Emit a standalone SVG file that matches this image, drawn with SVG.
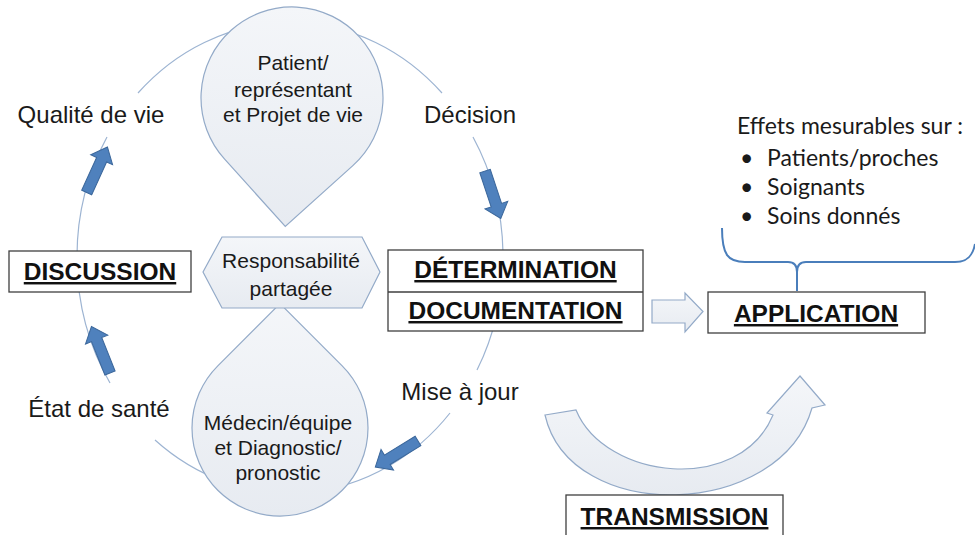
<svg xmlns="http://www.w3.org/2000/svg" width="975" height="535" viewBox="0 0 975 535">
<style>
.lbl{font-family:"Liberation Sans",Arial,sans-serif;font-size:24px;fill:#1a1a1a;text-anchor:middle}
.dt{font-family:"Liberation Sans",Arial,sans-serif;font-size:21px;fill:#1a1a1a;text-anchor:middle}
.box{fill:#fff;stroke:#3f3f3f;stroke-width:1.3}
.bt{font-family:"Liberation Sans",Arial,sans-serif;font-size:24.5px;font-weight:bold;fill:#111;text-anchor:middle;text-decoration:underline}
.shape{fill:url(#lg);stroke:#93aac8;stroke-width:1.2}
.cyc{fill:none;stroke:#9db4d2;stroke-width:1.2}
.eff{font-family:Lato,"Open Sans",sans-serif;font-size:23px;fill:#1a1a1a}
</style>
<defs>
<linearGradient id="lg" x1="0" y1="0" x2="0" y2="1"><stop offset="0" stop-color="#f4f6f9"/><stop offset="1" stop-color="#e7ebf1"/></linearGradient>
<path id="ba" d="M0 -5.5 H36 V-12 L50 0 L36 12 V5.5 H0 Z" fill="#4f81bd" stroke="#3b679b" stroke-width="1"/>
</defs>

<g id="connectors">
<path class="cyc" d="M442 93 A213 235 0 0 0 138 93"/>
<path class="cyc" d="M107 137 A213 235 0 0 0 110 383"/>
<path class="cyc" d="M155 440 A213 235 0 0 0 450 413"/>
<path class="cyc" d="M477 370 A213 235 0 0 0 473 137"/>
<use href="#ba" transform="translate(86.7 192.5) rotate(-65.5)"/>
<use href="#ba" transform="translate(110 373) rotate(-111.8)"/>
<use href="#ba" transform="translate(485 171) rotate(71.6)"/>
<use href="#ba" transform="translate(418 441) rotate(148.6)"/>
<path class="shape" d="M652 300 H685 V293 L703 311.5 L685 332 V323 H652 Z"/>
<path class="shape" d="M545 415 L576 410 C605 480 740 495 773 415 L767 413 L800 376 L825 405 L812 408 C780 520 570 525 545 415 Z"/>
<path d="M722 228 C722 255 728 262 745 262 L788 262 C795 262 797 266 797 272 L797 291 M797 272 C797 266 799 262 806 262 L955 262 C968 262 973 255 975 244" fill="none" stroke="#4a7ebb" stroke-width="2"/>
</g>

<g id="patient">
<path class="shape" transform="rotate(3 292 98)" d="M227.7 162.3 A91 91 0 1 1 356.3 162.3 L292 226.7 Z"/>
<text class="dt" x="293" y="70">Patient/</text>
<text class="dt" x="293" y="97">représentant</text>
<text class="dt" x="293" y="122">et Projet de vie</text>
</g>

<g id="medecin">
<path class="shape" d="M217.8 365.8 L280 303.5 L342.2 365.8 A88 88 0 1 1 217.8 365.8 Z"/>
<text class="dt" x="278" y="430">Médecin/équipe</text>
<text class="dt" x="278" y="455">et Diagnostic/</text>
<text class="dt" x="278" y="480">pronostic</text>
</g>

<g id="responsabilite">
<path class="shape" d="M203 272 L222 237 H362 L380 272 L362 308 H222 Z"/>
<text class="dt" x="291" y="268">Responsabilité</text>
<text class="dt" x="291" y="296">partagée</text>
</g>

<g id="discussion">
<rect class="box" x="9" y="251" width="182" height="41"/>
<text class="bt" x="100" y="280">DISCUSSION</text>
</g>

<g id="determination">
<rect class="box" x="388" y="250" width="255" height="81"/>
<line x1="388" y1="292" x2="643" y2="292" stroke="#3f3f3f" stroke-width="1.3"/>
<text class="bt" x="515.5" y="278">DÉTERMINATION</text>
<text class="bt" x="515.5" y="319">DOCUMENTATION</text>
</g>

<g id="application">
<rect class="box" x="708" y="292" width="217" height="41"/>
<text class="bt" x="816" y="322">APPLICATION</text>
</g>

<g id="transmission">
<rect class="box" x="566" y="495" width="217" height="45"/>
<text class="bt" x="674.5" y="525">TRANSMISSION</text>
</g>

<g id="labels">
<text class="lbl" x="91" y="123">Qualité de vie</text>
<text class="lbl" x="470" y="123">Décision</text>
<text class="lbl" x="99" y="417">État de santé</text>
<text class="lbl" x="460" y="400">Mise à jour</text>
</g>

<g id="effets">
<text class="eff" x="737" y="134">Effets mesurables sur :</text>
<text class="eff" x="740" y="166">•</text>
<text class="eff" x="767" y="166">Patients/proches</text>
<text class="eff" x="740" y="195">•</text>
<text class="eff" x="767" y="195">Soignants</text>
<text class="eff" x="740" y="224">•</text>
<text class="eff" x="767" y="224">Soins donnés</text>
</g>
</svg>
